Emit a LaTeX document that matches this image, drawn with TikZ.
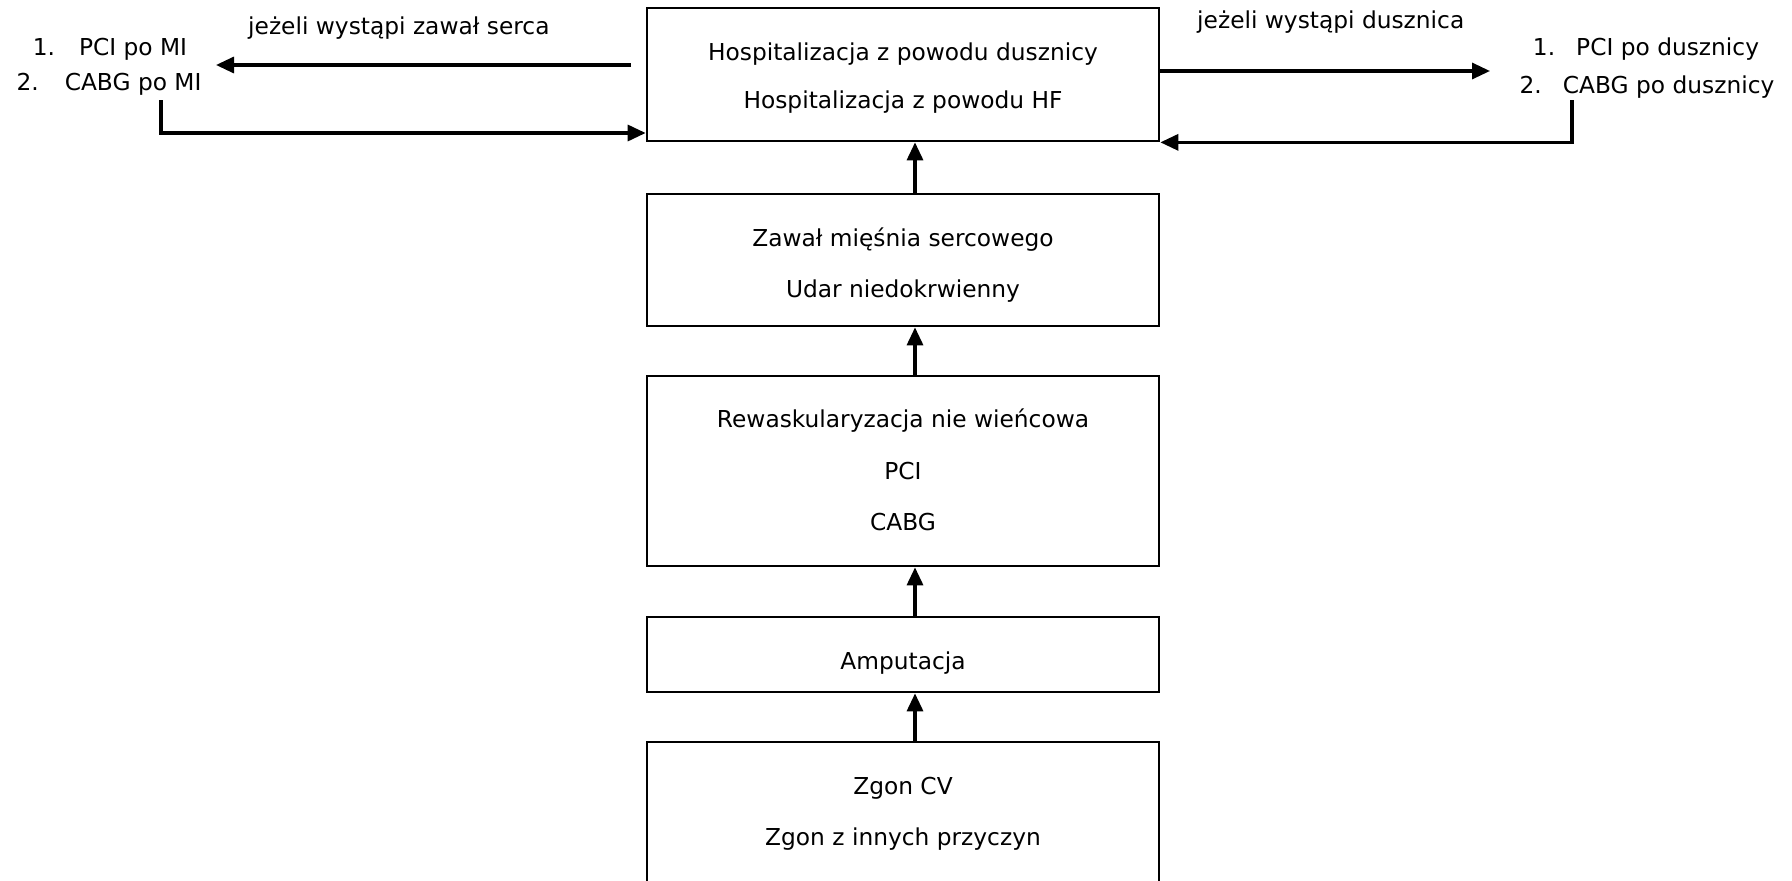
\documentclass[tikz,border=0pt]{standalone}
\usepackage{fontspec}
\setmainfont{DejaVu Sans}
\usetikzlibrary{arrows.meta}
\begin{document}
\begin{tikzpicture}[x=1pt,y=-1pt,
  box/.style={draw=black, line width=2.7pt, minimum width=512pt, inner sep=0pt},
  txt/.style={anchor=base, inner sep=0pt, font=\fontsize{23.3}{28}\selectfont},
  arr/.style={line width=3.3pt, -{Triangle[length=18pt,width=16pt]}}]
\useasboundingbox (0,0) rectangle (1792,881);
\fill[white] (0,0) rectangle (1792,881);
\clip (0,0) rectangle (1792,881);
% boxes
\node[box, minimum height=133pt] (top) at (903,74.5) {};
\node[box, minimum height=132pt] (zaw) at (903,260) {};
\node[box, minimum height=190pt] (rew) at (903,471) {};
\node[box, minimum height=75pt] (amp) at (903,654.5) {};
\node[box, minimum height=148pt] (zgon) at (903,816) {};
% texts
\node[txt] (t1) at (903,60.5) {Hospitalizacja z powodu dusznicy};
\node[txt] (t2) at (903,108) {Hospitalizacja z powodu HF};
\node[txt] (z1) at (903,246.5) {Zawał mięśnia sercowego};
\node[txt] (z2) at (903,297.5) {Udar niedokrwienny};
\node[txt] (r1) at (903,427.5) {Rewaskularyzacja nie wieńcowa};
\node[txt] (r2) at (903,479.5) {PCI};
\node[txt] (r3) at (903,530.5) {CABG};
\node[txt] (a1) at (903,669) {Amputacja};
\node[txt] (g1) at (903,794) {Zgon CV};
\node[txt] (g2) at (903,845.3) {Zgon z innych przyczyn};
% side texts
\node[txt, anchor=base west] (labl) at (248,34) {jeżeli wystąpi zawał serca};
\node[txt, anchor=base west] (labr) at (1197,28) {jeżeli wystąpi dusznica};
\node[txt] (ll1) at (110,55) {1.\hspace{24pt}PCI po MI};
\node[txt] (ll2) at (109,90.7) {2.\hspace{26pt}CABG po MI};
\node[txt] (rl1) at (1646,55) {1.\hspace{21pt}PCI po dusznicy};
\node[txt] (rl2) at (1647,93) {2.\hspace{21pt}CABG po dusznicy};
% vertical arrows
\coordinate (ax) at (915,0);
\draw[arr] (zgon.north -| ax) -- (amp.south -| ax);
\draw[arr] (amp.north -| ax) -- (rew.south -| ax);
\draw[arr] (rew.north -| ax) -- (zaw.south -| ax);
\draw[arr] (zaw.north -| ax) -- (top.south -| ax);
% left connectors
\coordinate (lt) at (631,65);
\coordinate (ltip) at (216,65);
\draw[arr] (lt) -- (ltip);
\coordinate (ld) at (161,100);
\draw[arr] (ld) |- ([yshift=-58.5pt]top.west);
% right connectors
\coordinate (rtip) at (1490,71);
\draw[arr] ([yshift=3.5pt]top.east) -- (rtip);
\coordinate (rd) at (1572,100);
\draw[arr] (rd) |- (top.south east);
\end{tikzpicture}
\end{document}
